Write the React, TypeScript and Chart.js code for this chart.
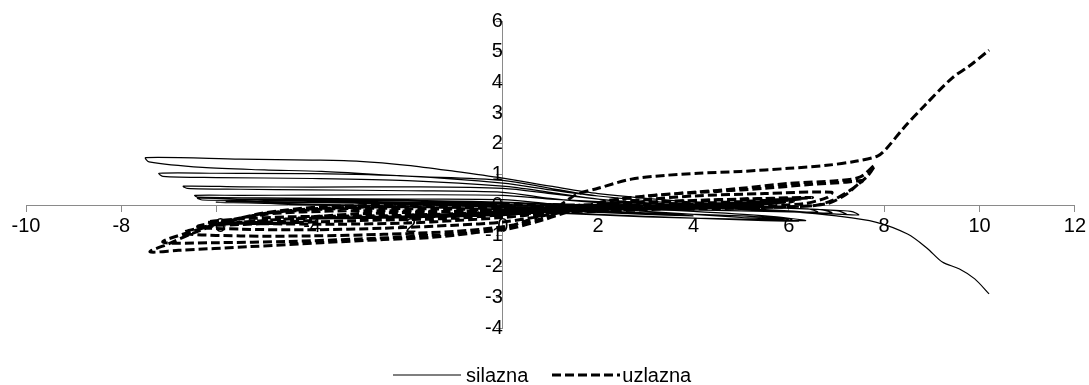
import React, { useEffect, useRef } from "react";
import { Chart, registerables } from "chart.js";

Chart.register(...registerables);

const seriesNames = ["silazna", "uzlazna"];
const xTicks = { min: -10, max: 12, step: 2 };
const yTicks = { min: -4, max: 6, step: 1 };

// silazna (solid)
const silaznaX = [
  5, 6, 5, 3, 1, 0, -2, -4, -6, -5, -3, -1, 0, 2, 4, 5.5, 6.2, 5, 3, 1.5, 0, -2, -4, -5, -3, -1,
  0, -1, -2, -1, 0, 1, 2, 1, 0, -1.5, -3, -4, -3, -1.5, 0, 1.5, 3, 4, 3, 1.5, 0, -2, -3.5, -5, -5.8, -4.5, -3, -1, 1, 3, 5, 6.35, 5.5, 4, 2, 0, -2, -4, -5.5, -6.4,
  -6.3, -5, -4, -2, 0, 2, 4, 5.5, 6.6,
  6.4, 5, 3, 1, 0, -2, -4, -5.5, -6.46,
  -6.4, -5, -4, -2, 0, 1, 2, 4, 6, 6.9,
  6.7, 5, 3, 2, 1, 0, -2, -4, -5.5, -6.7,
  -6.62, -5.5, -4, -2, 0, 1, 2, 4, 6, 7.2,
  7.0, 6, 4, 2, 1, 0, -2, -4, -6, -7.21,
  -7.13, -6, -4, -2, 0, 1, 2, 4, 6, 7.46,
  7.3, 6, 4, 2, 1, 0, -1, -2, -3, -4, -5.5, -7.49,
  -7.42, -6.3, -5, -3.8, -2, 0, 1, 2, 4, 6, 7, 7.82, 8.49, 8.9, 9.22, 9.58, 9.9, 10.2,
];
const silaznaY = [
  -0.4, -0.45, -0.35, -0.25, -0.12, -0.05, 0.05, 0.08, 0.1, 0.06, 0, -0.08, -0.15, -0.3, -0.42, -0.5, -0.52, -0.4, -0.2, -0.02, 0.1, 0.16, 0.2, 0.18, 0.12, 0.08,
  0.05, 0.1, 0.12, 0.08, 0.02, -0.08, -0.15, -0.12, -0.02, 0.05, 0.1, 0.12, 0.06, 0, -0.08, -0.2, -0.3, -0.35, -0.28, -0.18, -0.05, 0.05, 0.1, 0.12, 0.13, 0.03, -0.02, -0.1, -0.25, -0.38, -0.45, -0.5, -0.35, -0.2, -0.05, 0.08, 0.15, 0.18, 0.2, 0.23,
  0.17, 0.16, 0.15, 0.1, 0.03, -0.08, -0.15, -0.2, -0.22,
  -0.12, -0.05, 0.05, 0.2, 0.32, 0.34, 0.33, 0.32, 0.32,
  0.26, 0.24, 0.22, 0.2, 0.18, 0.05, -0.05, -0.15, -0.22, -0.25,
  -0.15, -0.05, 0.05, 0.2, 0.38, 0.55, 0.6, 0.59, 0.6, 0.62,
  0.55, 0.52, 0.5, 0.47, 0.42, 0.22, 0.08, -0.08, -0.2, -0.3,
  -0.18, -0.1, 0.02, 0.3, 0.5, 0.72, 0.95, 1.03, 1.04, 1.04,
  0.94, 0.9, 0.87, 0.8, 0.62, 0.42, 0.2, -0.02, -0.18, -0.32,
  -0.2, -0.1, 0.1, 0.38, 0.62, 0.88, 1.1, 1.3, 1.43, 1.47, 1.5, 1.55,
  1.41, 1.23, 1.15, 1.1, 0.95, 0.81, 0.55, 0.3, 0.02, -0.2, -0.35, -0.55, -0.94, -1.4, -1.85, -2.08, -2.4, -2.89,
];

// uzlazna (dashed)
const uzlaznaX = [
  -4, -5, -5.8, -4.5, -3, -1, 1, 3, 5, 6.1, 5, 3, 1, -1, -3, -5, -6, -5, -3, -1, 1, 3, 5, 6.5, 5, 3, 1,
  0, 1, 2, 1.2, 0, -1, -2, -1, 0, 1.5, 3, 4, 3, 1.5, 0, -1.5, -3, -4, -3, -1.5, 0, 2, 3.5, 5, 5.8, 4.5, 3, 1, -1, -3, -4.5, -5.5, -6.2,
  -5, -3.5, -2, -1, 0, 1, 2, 3, 4, 5.5, 6.3,
  5.5, 4, 2.5, 1, 0, -1.5, -3, -4.2, -5, -5.8, -6.4,
  -5.5, -4, -2.5, -1, 0, 1, 2, 3, 4, 5.5, 6.9,
  6.8, 6.3, 5, 3, 1, 0, -1.5, -3, -4, -5, -5.8, -6.7,
  -5.5, -4, -2.5, -1, 0, 0.8, 1.5, 2.5, 3.5, 4.5, 5.5, 6.5, 7.2, 7.55,
  7.45, 7.2, 6.8, 6, 4, 2, 0, -2, -3.8, -5, -5.7, -6.4, -7.13,
  -6, -4.5, -3, -1.5, 0, 0.8, 1.5, 2.2, 3, 4, 5, 6, 7, 7.5, 7.8,
  7.65, 7.3, 6.9, 6.5, 5, 3, 1, 0, -2, -3.8, -5, -5.7, -6.4, -7, -7.4,
  -6.8, -5.3, -3.8, -2.5, -1.5, -0.6, 0, 0.5, 0.8, 1.2, 1.55, 2, 2.7, 3.4, 4.1, 5, 6, 6.8, 7.4, 7.86, 8.05, 8.4, 8.85, 9.43, 9.8, 10.2,
];
const uzlaznaY = [
  -0.5, -0.55, -0.6, -0.45, -0.4, -0.35, -0.2, -0.05, 0.08, 0.12, 0, -0.1, -0.2, -0.42, -0.5, -0.6, -0.65, -0.5, -0.28, -0.2, -0.05, 0.1, 0.2, 0.25, 0.12, 0.02, -0.1,
  -0.15, -0.05, 0, -0.1, -0.2, -0.28, -0.32, -0.3, -0.22, -0.1, -0.02, 0.02, -0.08, -0.15, -0.28, -0.35, -0.38, -0.42, -0.4, -0.36, -0.3, -0.15, -0.05, 0.05, 0.1, -0.05, -0.15, -0.25, -0.32, -0.35, -0.38, -0.45, -0.55,
  -0.6, -0.62, -0.58, -0.5, -0.4, -0.25, -0.05, 0.08, 0.15, 0.2, 0.22,
  0.1, -0.05, -0.15, -0.22, -0.25, -0.2, -0.18, -0.22, -0.3, -0.5, -0.7,
  -0.78, -0.8, -0.75, -0.65, -0.55, -0.3, 0, 0.18, 0.3, 0.38, 0.42,
  0.25, 0.05, -0.05, -0.12, -0.18, -0.15, -0.12, -0.1, -0.15, -0.27, -0.55, -0.9,
  -1, -1, -0.95, -0.85, -0.7, -0.45, -0.1, 0.2, 0.36, 0.45, 0.55, 0.68, 0.75, 0.8,
  0.68, 0.35, 0.05, -0.05, -0.12, -0.12, -0.08, -0.05, -0.1, -0.27, -0.5, -0.8, -1.2,
  -1.22, -1.18, -1.1, -0.98, -0.8, -0.5, -0.15, 0.15, 0.3, 0.42, 0.55, 0.71, 0.8, 0.92, 1.3,
  0.95, 0.5, 0.15, -0.02, -0.08, -0.05, 0.02, 0.02, 0, -0.05, -0.25, -0.5, -0.85, -1.25, -1.52,
  -1.47, -1.35, -1.22, -1.12, -1.05, -0.9, -0.75, -0.5, -0.32, 0, 0.35, 0.55, 0.85, 0.97, 1.04, 1.1, 1.2, 1.3, 1.43, 1.6, 1.85, 2.5, 3.25, 4.15, 4.55, 5.05,
];

const toPoints = (xs: number[], ys: number[]) => xs.map((x, i) => ({ x, y: ys[i] }));

const FONT = "'Liberation Sans', Arial, sans-serif";

function LegendItem({ dashed, label }: { dashed: boolean; label: string }) {
  return (
    <div style={{ display: "flex", alignItems: "center" }}>
      <svg width={68} height={6} style={{ display: "block" }}>
        <line
          x1={0}
          y1={3}
          x2={68}
          y2={3}
          stroke="#000"
          strokeWidth={dashed ? 3 : 1.2}
          strokeDasharray={dashed ? "9 4" : undefined}
        />
      </svg>
      <span style={{ marginLeft: dashed ? 2 : 5, fontFamily: FONT, fontSize: 20, lineHeight: "20px", color: "#000" }}>
        {label}
      </span>
    </div>
  );
}

export default function App() {
  const ref = useRef<HTMLCanvasElement | null>(null);

  useEffect(() => {
    document.body.style.margin = "0";
    if (!ref.current) return;
    const font = { family: FONT, size: 20 };
    const axisColor = "#8a8a8a";
    const chart = new Chart(ref.current, {
      type: "scatter",
      data: {
        datasets: [
          {
            label: seriesNames[0],
            data: toPoints(silaznaX, silaznaY),
            showLine: true,
            borderColor: "#000",
            backgroundColor: "#000",
            borderWidth: 1.2,
            pointRadius: 0,
            tension: 0.3,
            fill: false,
          },
          {
            label: seriesNames[1],
            data: toPoints(uzlaznaX, uzlaznaY),
            showLine: true,
            borderColor: "#000",
            backgroundColor: "#000",
            borderWidth: 3,
            borderDash: [9, 4],
            pointRadius: 0,
            tension: 0.3,
            fill: false,
          },
        ],
      },
      options: {
        animation: false,
        responsive: true,
        maintainAspectRatio: false,
        layout: { padding: { left: 26, right: 13, top: 20, bottom: 57 } },
        plugins: {
          tooltip: { enabled: false },
          legend: { display: false },
        },
        scales: {
          x: {
            type: "linear",
            position: { y: 0 },
            min: xTicks.min,
            max: xTicks.max,
            afterFit: (s: any) => {
              s.height = 0;
            },
            ticks: { stepSize: xTicks.step, autoSkip: false, maxRotation: 0, color: "#000", font, padding: 3 },
            grid: { drawOnChartArea: false, drawTicks: true, tickLength: 6, color: axisColor },
            border: { color: axisColor, width: 1 },
          },
          y: {
            type: "linear",
            position: { x: 0 },
            min: yTicks.min,
            max: yTicks.max,
            afterFit: (s: any) => {
              s.width = 0;
            },
            ticks: { stepSize: yTicks.step, autoSkip: false, color: "#000", font, padding: 9 },
            grid: { drawOnChartArea: false, drawTicks: true, tickLength: 6, color: axisColor },
            border: { color: axisColor, width: 1 },
          },
        },
      },
    });
    return () => chart.destroy();
  }, []);

  return (
    <div style={{ width: 1089, height: 385, position: "relative" }}>
      <canvas ref={ref} />
      <div
        style={{
          position: "absolute",
          left: 393,
          top: 365,
          display: "flex",
          alignItems: "center",
          gap: 24,
        }}
      >
        <LegendItem dashed={false} label={seriesNames[0]} />
        <LegendItem dashed={true} label={seriesNames[1]} />
      </div>
    </div>
  );
}
